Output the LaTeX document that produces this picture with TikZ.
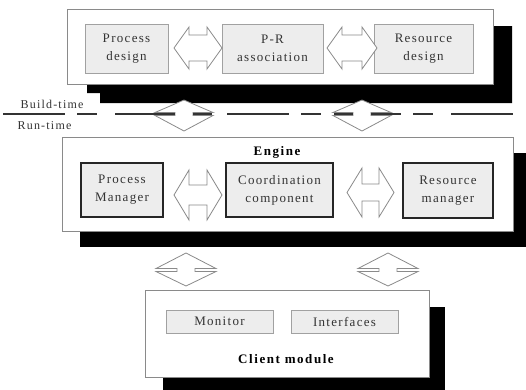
\documentclass[tikz,border=0pt]{standalone}
\usepackage{fontspec}
\setmainfont{Liberation Serif}
\newfontfamily\lsp[LetterSpace=10]{Liberation Serif}
\newfontfamily\lspb[LetterSpace=12]{Liberation Serif}
\definecolor{boxgray}{HTML}{EDEDED}
\definecolor{linegray}{HTML}{8A8A8A}
\tikzset{
  outerbox/.style={draw=linegray,line width=0.8pt,fill=white},
  shadowbox/.style={fill=black,draw=none},
  topin/.style={draw=linegray!80,line width=0.7pt,fill=boxgray,align=center,inner sep=0pt,
    font=\lsp\fontsize{13}{18}\selectfont,text=black!80},
  engin/.style={draw=black!85,line width=1.3pt,fill=boxgray,align=center,inner sep=0pt,
    font=\lsp\fontsize{13}{18}\selectfont,text=black!80},
  clin/.style={draw=linegray!80,line width=0.7pt,fill=boxgray,align=center,inner sep=0pt,
    font=\lsp\fontsize{13}{16}\selectfont,text=black!80},
  bigtitle/.style={font=\lspb\bfseries\fontsize{13}{16}\selectfont,inner sep=0pt},
  sidelabel/.style={font=\lsp\fontsize{12}{14}\selectfont,inner sep=0pt,text=black!80},
  blockarrow/.style={draw=linegray,line width=0.8pt,fill=white,line join=miter},
  sepline/.style={draw=black!80,line width=2pt,dash pattern=on 62pt off 12pt on 20pt off 18pt}
}
% horizontal double block arrow: x1 x2 yc halfhead halfshaft headlen
\newcommand\hdarrow[6]{%
  \draw[blockarrow] (#1,#3) -- (#1+#6,#3-#4) -- (#1+#6,#3-#5) -- (#2-#6,#3-#5) -- (#2-#6,#3-#4)
   -- (#2,#3) -- (#2-#6,#3+#4) -- (#2-#6,#3+#5) -- (#1+#6,#3+#5) -- (#1+#6,#3+#4) -- cycle;}
% vertical squat double arrow: cx top mid bottom halfwidth halfshaft halfrect
\newcommand\vdarrow[7]{%
  \draw[blockarrow] (#1,#2) -- (#1+#5,#3-#7) -- (#1+#6,#3-#7) -- (#1+#6,#3+#7) -- (#1+#5,#3+#7)
   -- (#1,#4) -- (#1-#5,#3+#7) -- (#1-#6,#3+#7) -- (#1-#6,#3-#7) -- (#1-#5,#3-#7) -- cycle;}
\begin{document}
\begin{tikzpicture}[x=1pt,y=-1pt]
\useasboundingbox (0,0) rectangle (526,389);
% ---- top panel
\fill[shadowbox] (87,26) -- (512,26) -- (512,103) -- (100,103) -- (100,93) -- (87,93) -- cycle;
\draw[outerbox] (67,9) rectangle (493,84);
\node[topin,minimum width=83pt,minimum height=49pt] (pd) at (126.5,48.5) {Process\\design};
\node[topin,minimum width=101pt,minimum height=49pt] (pr) at (272.5,48.5) {P-R\\association};
\node[topin,minimum width=99pt,minimum height=49pt] (rd) at (423.5,48.5) {Resource\\design};
\hdarrow{174}{222}{48}{21}{13}{15}
\hdarrow{327}{377}{48}{21}{13}{15}
% ---- separator
\node[sidelabel] (bt) at (52,104) {Build-time};
\node[sidelabel] (rt) at (44.5,125.5) {Run-time};
\draw[sepline] (3,114) -- (515,114);
\vdarrow{184}{100}{114}{131}{29}{9}{1.5}
\vdarrow{362}{100}{114}{131}{29}{9}{1.5}
\foreach \cx in {184,362}{
  \draw[black!80,line width=2.2pt] (\cx-28,114) -- (\cx-9,114) (\cx+9,114) -- (\cx+28,114);
}
% ---- engine panel
\fill[shadowbox] (80,153) rectangle (526,247);
\draw[outerbox] (62,137) rectangle (513,231);
\node[bigtitle] (eng) at (277,152) {Engine};
\node[engin,minimum width=82pt,minimum height=54pt] (pm) at (122,190) {Process\\Manager};
\node[engin,minimum width=107pt,minimum height=54pt] (cc) at (279.5,190) {Coordination\\component};
\node[engin,minimum width=90pt,minimum height=55pt] (rm) at (448,190.5) {Resource\\manager};
\hdarrow{174}{222}{195}{25}{10}{15}
\hdarrow{347}{394}{192.5}{24.5}{8.5}{15}
% ---- client panel connectors
\vdarrow{186}{253}{270}{286}{30}{9}{1.5}
\vdarrow{388}{253}{270}{286}{30}{9}{1.5}
% ---- client panel
\fill[shadowbox] (163,307) rectangle (445,395);
\draw[outerbox] (145,290) rectangle (429,377);
\node[clin,minimum width=107pt,minimum height=23pt] (mon) at (219.5,321.5) {Monitor};
\node[clin,minimum width=107pt,minimum height=23pt] (itf) at (344.5,321.5) {Interfaces};
\node[bigtitle] (cm) at (286,359) {Client module};
\end{tikzpicture}
\end{document}
